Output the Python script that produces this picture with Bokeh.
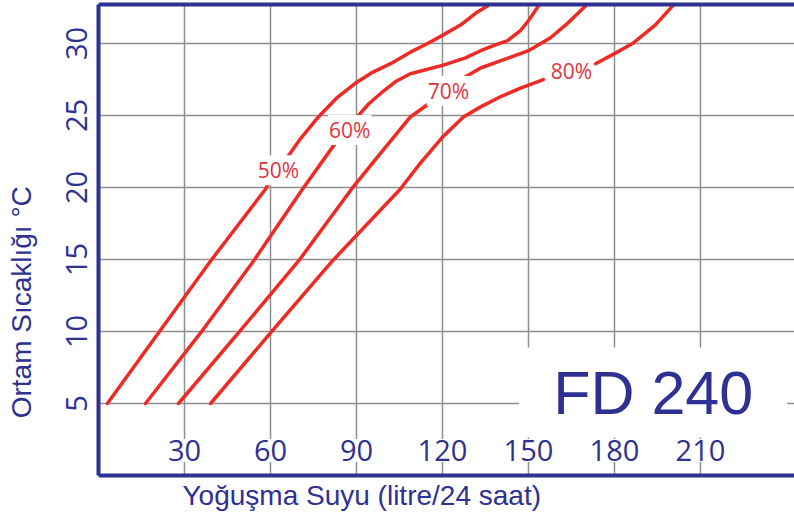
from bokeh.plotting import figure
from bokeh.models import Range1d, FixedTicker, Label, LinearAxis, Title
from bokeh.core.properties import value
from bokeh.embed import file_html
from bokeh.resources import INLINE

# ---- data ----
x_ticks = [30, 60, 90, 120, 150, 180, 210]
x_tick_labels = ["30", "60", "90", "120", "150", "180", "210"]
y_ticks = [5, 10, 15, 20, 25, 30]

# relative humidity curves: water (litre/24h) vs ambient temperature (°C)
# each curve is split in two parts around its label
rh50_lo_x = [3.1, 20.9, 39.1, 58.3, 59.3]
rh50_lo_y = [5.0, 9.9, 14.9, 19.9, 20.3]
rh50_hi_x = [65.9, 70.5, 76.7, 83.0, 90.0, 95.6, 101.9, 108.8, 114.8, 120.3, 126.4, 131.5, 135.7]
rh50_hi_y = [22.1, 23.4, 24.9, 26.2, 27.3, 28.0, 28.6, 29.4, 30.0, 30.6, 31.3, 32.1, 32.6]

rh60_lo_x = [16.4, 35.6, 54.1, 71.2, 82.7]
rh60_lo_y = [5.0, 9.9, 14.9, 19.9, 23.1]
rh60_hi_x = [90.3, 94.2, 99.4, 104.0, 108.8, 120.3, 128.0, 133.3, 138.5, 142.7, 147.2, 150.0, 153.5]
rh60_hi_y = [24.9, 25.8, 26.7, 27.4, 27.9, 28.5, 29.0, 29.5, 29.9, 30.2, 30.9, 31.6, 32.6]

rh70_lo_x = [27.9, 48.8, 69.8, 88.3, 98.5, 108.8, 115.1]
rh70_lo_y = [5.0, 9.9, 14.9, 19.9, 22.4, 24.9, 25.8]
rh70_hi_x = [127.3, 133.3, 140.2, 150.0, 157.7, 163.6, 169.9]
rh70_hi_y = [27.6, 28.3, 28.8, 29.5, 30.4, 31.4, 32.6]

rh80_lo_x = [39.1, 60.0, 81.6, 105.3, 112.3, 120.0, 127.3, 133.3, 140.2, 147.2, 155.2]
rh80_lo_y = [5.0, 9.9, 14.9, 19.9, 21.7, 23.5, 24.9, 25.6, 26.3, 26.9, 27.5]
rh80_hi_x = [173.4, 180.0, 186.3, 194.3, 200.2]
rh80_hi_y = [28.6, 29.3, 30.0, 31.3, 32.6]

rh_labels = ["50%", "60%", "70%", "80%"]
rh_label_x = [62.8, 87.6, 122.1, 165.0]
rh_label_y = [21.2, 24.0, 26.7, 28.1]

# ---- styling ----
NAVY = "#2e3192"
RED = "#ee2a24"
LABEL_RED = "#e2333e"
GRID = "#8f8f8f"
X_MAX = 242.8
Y_MAX = 32.71
TICK_Y = 1.74
TICK_FONT = "Open Sans"

p = figure(width=794, height=514,
           x_range=Range1d(0, X_MAX), y_range=Range1d(0, Y_MAX),
           output_backend="svg", toolbar_location=None,
           min_border_left=98, min_border_right=0,
           min_border_top=4, min_border_bottom=39)
p.outline_line_color = None
p.background_fill_color = "white"
p.border_fill_color = "white"

# x axis: only the thick line (tick labels are drawn inside the plot area)
p.xaxis.ticker = FixedTicker(ticks=[])
p.xaxis.major_tick_out = 0
p.xaxis.major_tick_in = 0
p.xaxis.minor_tick_out = 0
p.xaxis.minor_tick_in = 0
p.xaxis.axis_line_width = 4
p.xaxis.axis_line_color = NAVY
p.xgrid.ticker = FixedTicker(ticks=x_ticks)

# top border as an empty axis
p.add_layout(LinearAxis(ticker=FixedTicker(ticks=[]), axis_line_color=NAVY, axis_line_width=4,
                        major_tick_out=0, major_tick_in=0, minor_tick_out=0, minor_tick_in=0),
             "above")

# y axis (title shifted toward the bottom with trailing no-break spaces)
p.yaxis.ticker = FixedTicker(ticks=y_ticks)
p.yaxis.major_label_orientation = "vertical"
p.yaxis.major_label_text_font = TICK_FONT
p.yaxis.major_label_text_font_size = "29px"
p.yaxis.major_label_text_color = NAVY
p.yaxis.major_label_standoff = 11
p.yaxis.major_tick_out = 0
p.yaxis.major_tick_in = 0
p.yaxis.minor_tick_out = 0
p.yaxis.minor_tick_in = 0
p.yaxis.axis_line_width = 4
p.yaxis.axis_line_color = NAVY
p.yaxis.axis_label = "Ortam Sıcaklığı °C" + "\u00a0" * 16
p.yaxis.axis_label_standoff = 27
p.yaxis.axis_label_text_font = "Liberation Sans"
p.yaxis.axis_label_text_font_size = "28px"
p.yaxis.axis_label_text_font_style = "normal"
p.yaxis.axis_label_text_color = NAVY

p.grid.grid_line_color = GRID
p.grid.grid_line_width = 1.5

# curves
xs = [rh50_lo_x, rh50_hi_x, rh60_lo_x, rh60_hi_x, rh70_lo_x, rh70_hi_x, rh80_lo_x, rh80_hi_x]
ys = [rh50_lo_y, rh50_hi_y, rh60_lo_y, rh60_hi_y, rh70_lo_y, rh70_hi_y, rh80_lo_y, rh80_hi_y]
p.multi_line(xs, ys, line_color=RED, line_width=3.5, line_cap="round", line_join="round")

# curve labels
p.text(x=rh_label_x, y=rh_label_y, text=rh_labels,
       text_font=value(TICK_FONT), text_font_size="21px", text_color=LABEL_RED,
       text_align="center", text_baseline="middle",
       background_fill_color="white", padding=1)

# x tick labels inside the plot
p.text(x=x_ticks, y=[TICK_Y] * len(x_ticks), text=x_tick_labels,
       text_font=value(TICK_FONT), text_font_size="29px", text_color=NAVY,
       text_align="center", text_baseline="middle",
       background_fill_color="white", padding=1)

# model name
p.add_layout(Label(x=193.5, y=5.76, text="FD 240",
                   text_font="Liberation Sans", text_font_size="61px", text_color=NAVY,
                   text_align="center", text_baseline="middle",
                   background_fill_color="white", padding=(34, 11)))

# x title
p.add_layout(Title(text="Yoğuşma Suyu (litre/24 saat)", align="left", offset=84, standoff=4,
                   text_font="Liberation Sans", text_font_size="28px", text_font_style="normal",
                   text_color=NAVY), "below")

open("out.html", "w").write(file_html(p, INLINE))
